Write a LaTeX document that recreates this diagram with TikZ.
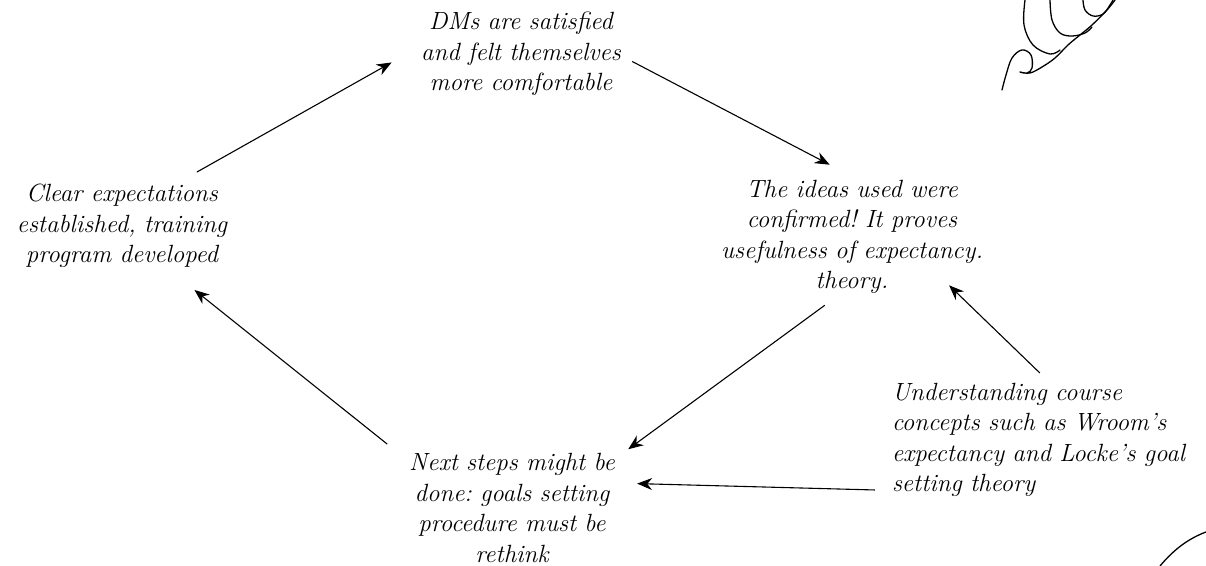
\documentclass[tikz,border=0pt]{standalone}
\usetikzlibrary{arrows.meta}
\begin{document}
\frenchspacing
\begin{tikzpicture}[x=1bp,y=-1bp,
  txt/.style={font=\fontsize{25}{30.5}\selectfont\itshape, inner sep=0pt, align=center},
  conn/.style={line width=1.1pt, -{Stealth[length=15pt,width=12pt]}},
  ink/.style={line width=1.3pt, line cap=round, line join=round}]
\useasboundingbox (0,0) rectangle (1206,566);
\node[txt, text width=215bp, minimum height=84bp] (clear) at (122,226)
  {Clear expectations\\established, training\\program developed};
\node[txt, text width=215bp, minimum height=90bp] (dms) at (521,54)
  {DMs are satisfied\\and felt themselves\\more comfortable};
\node[txt, text width=270bp, minimum height=122bp] (ideas) at (852,237)
  {The ideas used were\\confirmed! It proves\\usefulness of expectancy.\\theory.};
\node[txt, text width=215bp, minimum height=124bp] (next) at (512,508)
  {Next steps might be\\done: goals setting\\procedure must be\\rethink};
\node[txt, align=left, text width=310bp, minimum height=124bp] (und) at (1047,440)
  {Understanding course\\concepts such as Wroom's\\expectancy and Locke's goal\\setting theory};
\draw[conn, shorten <=24pt, shorten >=25pt] (clear.38) -- (dms.178);
\draw[conn, shorten <=4pt, shorten >=24pt] (dms.-3) -- (ideas.91);
\draw[conn, shorten <=12pt, shorten >=10.6pt] (ideas.-106) -- (next.26);
\draw[conn, shorten <=22pt, shorten >=35pt] (next.155) -- (clear.-43);
\draw[conn, shorten <=7pt, shorten >=-18.6pt] (und.92) -- (ideas.-29);
\draw[conn, shorten <=17pt, shorten >=17.5pt] (und.198) -- (next.13);
% handwritten mark
\draw[ink] plot[smooth, tension=0.6] coordinates {(1002,90) (1006,75) (1012,58) (1022,50) (1031,55) (1032,68) (1027,73) (1020,72) (1030,73) (1042,67) (1055,58) (1068,45) (1080,35) (1092,25) (1107,10) (1115,0)};
\draw[ink] plot[smooth, tension=0.6] coordinates {(1025,0) (1024,25) (1033,45) (1050,54) (1060,50)};
\draw[ink] plot[smooth, tension=0.6] coordinates {(1050,0) (1052,20) (1060,33) (1072,36) (1085,33) (1092,27)};
\draw[ink] plot[smooth, tension=0.6] coordinates {(1083,0) (1085,10) (1093,16) (1103,14) (1110,5) (1113,0)};
\draw[ink] (1160,566) .. controls (1175,548) and (1190,538) .. (1206,532);
\end{tikzpicture}
\end{document}
